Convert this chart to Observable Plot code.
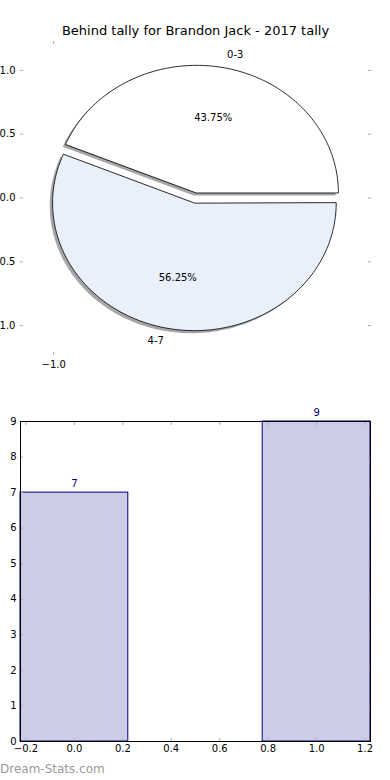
<!DOCTYPE html>
<html><head><meta charset="utf-8">
<script src="https://cdn.jsdelivr.net/npm/d3@7"></script>
<script src="https://cdn.jsdelivr.net/npm/@observablehq/plot@0.6"></script>
<style>
body{margin:0;background:#fff;}
#chart{position:relative;width:390px;height:780px;overflow:hidden;font-family:"DejaVu Sans",sans-serif;background:#fff;}
#pie{position:absolute;left:0;top:0;}
#bar{position:absolute;left:0;top:380px;}
#wm{position:absolute;left:0;top:762px;font-size:12px;color:#999;font-family:"DejaVu Sans",sans-serif;}
</style></head><body>
<div id="chart"><div id="pie"></div><div id="bar"></div><div id="wm">Dream-Stats.com</div></div>
<script>
const title = "Behind tally for Brandon Jack - 2017 tally";
const pieLabels = ["0-3", "4-7"];
const pieValues = [7, 9];
const pieColors = ["#ffffff", "#e9f0fc"];
const pieExplode = [0.04, 0.04];
const pieYTicks = [-1, -0.5, 0, 0.5, 1];
const pieXTicks = [-1];
const pieLim = 1.234;

const barX = [0, 1];
const barValues = [7, 9];
const barWidth = 0.445;
const barXTicks = [-0.2, 0, 0.2, 0.4, 0.6, 0.8, 1.0, 1.2];
const barYTicks = [0, 1, 2, 3, 4, 5, 6, 7, 8, 9];

// ---- pie geometry (from data) ----
const total = d3.sum(pieValues);
const rad = Math.PI / 180;
let start = 0;
const wedges = [], shadows = [], labelPts = [], pctPts = [];
pieValues.forEach((v, i) => {
  const end = start + 360 * v / total;
  const mid = (start + end) / 2;
  const e = pieExplode[i];
  const cx = e * Math.cos(mid * rad), cy = e * Math.sin(mid * rad);
  const n = Math.max(2, Math.ceil(end - start));
  const pts = [[cx, cy]];
  for (let k = 0; k <= n; k++) {
    const a = (start + (end - start) * k / n) * rad;
    pts.push([cx + Math.cos(a), cy + Math.sin(a)]);
  }
  pts.forEach(([x, y]) => {
    wedges.push({slice: pieLabels[i], x, y, fill: pieColors[i]});
    shadows.push({slice: pieLabels[i], x: x - 0.02, y: y - 0.02});
  });
  labelPts.push({text: pieLabels[i], x: cx + 1.1 * Math.cos(mid * rad), y: cy + 1.1 * Math.sin(mid * rad)});
  pctPts.push({text: d3.format(".2f")(100 * v / total) + "%", x: cx + 0.6 * Math.cos(mid * rad), y: cy + 0.6 * Math.sin(mid * rad)});
  start = end;
});

const tickColor = "#aaaaaa";

const pie = Plot.plot({
  width: 390, height: 380,
  marginLeft: 20, marginRight: 20, marginTop: 40, marginBottom: 25,
  style: {fontFamily: "DejaVu Sans, sans-serif", fontSize: "10px", background: "transparent", overflow: "hidden"},
  x: {domain: [-pieLim, pieLim], label: null},
  y: {domain: [-pieLim, pieLim], label: null},
  color: {type: "identity"},
  marks: [
    Plot.line(shadows, {x: "x", y: "y", z: "slice", fill: "#4d4d4d", fillOpacity: 0.5, stroke: "none", curve: "linear-closed"}),
    Plot.line(wedges, {x: "x", y: "y", z: "slice", fill: "fill", stroke: "#111", strokeWidth: 0.9, curve: "linear-closed"}),
    Plot.text(labelPts, {filter: d => d.x > 0, x: "x", y: "y", text: "text", textAnchor: "start", fill: "black"}),
    Plot.text(labelPts, {filter: d => d.x <= 0, x: "x", y: "y", text: "text", textAnchor: "end", fill: "black"}),
    Plot.text(pctPts, {x: "x", y: "y", text: "text", fill: "black"}),
    Plot.text([title], {text: d => d, frameAnchor: "top", dy: -10, lineAnchor: "middle", fontSize: 13, fill: "black"}),
    Plot.axisY({ticks: pieYTicks, anchor: "left", tickSize: 0, tickPadding: 5, tickFormat: d3.format(".1f"), label: null, color: "black"}),
    Plot.axisY({ticks: pieYTicks, anchor: "left", tickSize: -3, tickFormat: () => "", label: null, color: tickColor}),
    Plot.axisY({ticks: pieYTicks, anchor: "right", tickSize: -3, tickFormat: () => "", label: null, color: tickColor}),
    Plot.axisX({ticks: pieXTicks, anchor: "bottom", tickSize: 0, tickPadding: 5, tickFormat: d3.format(".1f"), label: null, color: "black"}),
    Plot.axisX({ticks: pieXTicks, anchor: "bottom", tickSize: -3, tickFormat: () => "", label: null, color: tickColor}),
    Plot.axisX({ticks: pieXTicks, anchor: "top", tickSize: -3, tickFormat: () => "", label: null, color: tickColor})
  ]
});
document.getElementById("pie").appendChild(pie);

// ---- bar chart ----
const barData = barX.map((x, i) => ({x, v: barValues[i]}));
const bar = Plot.plot({
  width: 390, height: 400,
  marginLeft: 20, marginRight: 20, marginTop: 41, marginBottom: 39,
  style: {fontFamily: "DejaVu Sans, sans-serif", fontSize: "10px", background: "transparent", overflow: "hidden"},
  x: {domain: [barX[0] - barWidth / 2, barX[barX.length - 1] + barWidth / 2], label: null},
  y: {domain: [0, 9], label: null},
  marks: [
    Plot.rectY(barData, {x1: d => d.x - barWidth / 2, x2: d => d.x + barWidth / 2, y: "v", fill: "#ccccE5", stroke: "#000080", strokeWidth: 1}),
    Plot.text(barData, {x: "x", y: "v", text: d => String(d.v), dy: -9, fill: "#000080"}),
    Plot.axisY({ticks: barYTicks, anchor: "left", tickSize: 0, tickPadding: 4, tickFormat: d3.format("d"), label: null, color: "black"}),
    Plot.axisY({ticks: barYTicks, anchor: "left", tickSize: -3, tickFormat: () => "", label: null, color: tickColor}),
    Plot.axisY({ticks: barYTicks, anchor: "right", tickSize: -3, tickFormat: () => "", label: null, color: tickColor}),
    Plot.axisX({ticks: barXTicks, anchor: "bottom", tickSize: 0, tickPadding: 3, tickFormat: d3.format(".1f"), label: null, color: "black"}),
    Plot.axisX({ticks: barXTicks, anchor: "bottom", tickSize: -3, tickFormat: () => "", label: null, color: tickColor}),
    Plot.axisX({ticks: barXTicks, anchor: "top", tickSize: -3, tickFormat: () => "", label: null, color: tickColor}),
    Plot.frame({stroke: "black", strokeWidth: 1})
  ]
});
document.getElementById("bar").appendChild(bar);
</script>
</body></html>
